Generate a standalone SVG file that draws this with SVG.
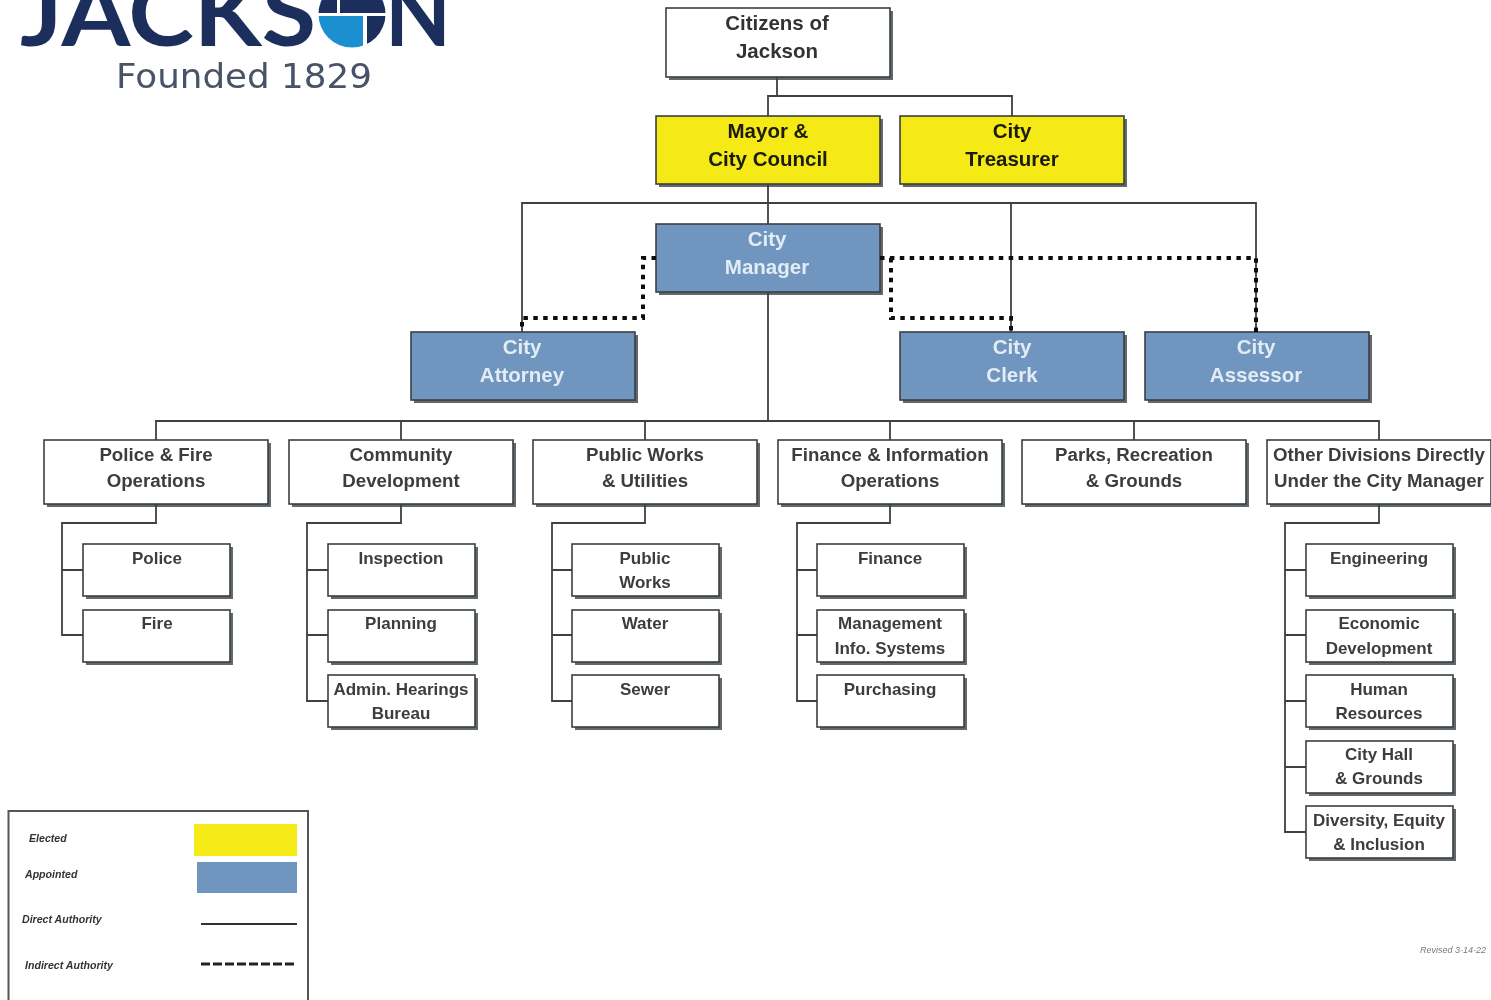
<svg xmlns="http://www.w3.org/2000/svg" width="1491" height="1000" viewBox="0 0 1491 1000">
<style>
text{font-family:"Liberation Sans",Arial,sans-serif;text-anchor:middle;font-weight:bold}
.box{stroke:#3a3f45;stroke-width:1.6}
.sh{fill:#64676b;stroke:none}
.w{fill:#fff}.y{fill:#f5ea14}.b{fill:#6f96bf}
.t0{font-size:20.5px;fill:#333}
.t1{font-size:18.7px;fill:#3c3c3c}
.tb{font-size:20.5px;fill:#1a1a10}
.tw{font-size:20.5px;fill:#e2ecf5}
.t2{font-size:17px;fill:#3c3c3c}
.lg{font-size:10.6px;font-style:italic;fill:#333;text-anchor:start}
.line{fill:none;stroke:#3c4044;stroke-width:1.8}
.dot{fill:none;stroke:#111;stroke-width:4;stroke-dasharray:4.5 5.4}
.logo{font-family:Lato,"Liberation Sans",sans-serif;font-weight:bold;font-size:92px;fill:#1c2f5c;text-anchor:start}
</style>
<defs><filter id="soft" filterUnits="userSpaceOnUse" x="0" y="0" width="1491" height="1000"><feGaussianBlur stdDeviation="0.7"/></filter></defs>
<rect width="1491" height="1000" fill="#fff"/>
<g id="page" filter="url(#soft)">
<g id="logo">
<text class="logo" x="20" y="46" textLength="296" lengthAdjust="spacingAndGlyphs">JACKS</text>
<text class="logo" x="385" y="46" textLength="66" lengthAdjust="spacingAndGlyphs">N</text>
<clipPath id="disc"><circle cx="352" cy="14" r="33.500"/></clipPath>
<g clip-path="url(#disc)">
<rect x="315" y="-22" width="22" height="35" fill="#1c2f5c"/>
<rect x="340" y="-22" width="50" height="35" fill="#1c2f5c"/>
<rect x="315" y="16" width="48" height="35" fill="#1e8fd0"/>
<rect x="367" y="16" width="25" height="35" fill="#1c2f5c"/>
</g>
<text x="116" y="88" style="font-family:'DejaVu Sans',sans-serif;font-weight:normal;font-size:33px;fill:#475266;text-anchor:start" textLength="256" lengthAdjust="spacingAndGlyphs">Founded 1829</text>
</g>
<g id="citizens"><rect class="sh" x="669" y="11" width="224" height="69"/><rect class="box w" x="666" y="8" width="224" height="69"/><text class="t0" x="777" y="30">Citizens of</text><text class="t0" x="777" y="58">Jackson</text></g>
<g id="mayor"><rect class="sh" x="659" y="119" width="224" height="68"/><rect class="box y" x="656" y="116" width="224" height="68"/><text class="tb" x="768" y="138">Mayor &amp;</text><text class="tb" x="768" y="166">City Council</text></g>
<g id="treasurer"><rect class="sh" x="903" y="119" width="224" height="68"/><rect class="box y" x="900" y="116" width="224" height="68"/><text class="tb" x="1012" y="138">City</text><text class="tb" x="1012" y="166">Treasurer</text></g>
<g id="manager"><rect class="sh" x="659" y="227" width="224" height="68"/><rect class="box b" x="656" y="224" width="224" height="68"/><text class="tw" x="767" y="246">City</text><text class="tw" x="767" y="274">Manager</text></g>
<g id="attorney"><rect class="sh" x="414" y="335" width="224" height="68"/><rect class="box b" x="411" y="332" width="224" height="68"/><text class="tw" x="522" y="354">City</text><text class="tw" x="522" y="382">Attorney</text></g>
<g id="clerk"><rect class="sh" x="903" y="335" width="224" height="68"/><rect class="box b" x="900" y="332" width="224" height="68"/><text class="tw" x="1012" y="354">City</text><text class="tw" x="1012" y="382">Clerk</text></g>
<g id="assessor"><rect class="sh" x="1148" y="335" width="224" height="68"/><rect class="box b" x="1145" y="332" width="224" height="68"/><text class="tw" x="1256" y="354">City</text><text class="tw" x="1256" y="382">Assessor</text></g>
<g id="police-fire"><rect class="sh" x="47" y="443" width="224" height="64"/><rect class="box w" x="44" y="440" width="224" height="64"/><text class="t1" x="156" y="461">Police &amp; Fire</text><text class="t1" x="156" y="487">Operations</text></g>
<g id="community"><rect class="sh" x="292" y="443" width="224" height="64"/><rect class="box w" x="289" y="440" width="224" height="64"/><text class="t1" x="401" y="461">Community</text><text class="t1" x="401" y="487">Development</text></g>
<g id="public-works"><rect class="sh" x="536" y="443" width="224" height="64"/><rect class="box w" x="533" y="440" width="224" height="64"/><text class="t1" x="645" y="461">Public Works</text><text class="t1" x="645" y="487">&amp; Utilities</text></g>
<g id="finance-ops"><rect class="sh" x="781" y="443" width="224" height="64"/><rect class="box w" x="778" y="440" width="224" height="64"/><text class="t1" x="890" y="461">Finance &amp; Information</text><text class="t1" x="890" y="487">Operations</text></g>
<g id="parks"><rect class="sh" x="1025" y="443" width="224" height="64"/><rect class="box w" x="1022" y="440" width="224" height="64"/><text class="t1" x="1134" y="461">Parks, Recreation</text><text class="t1" x="1134" y="487">&amp; Grounds</text></g>
<g id="other"><rect class="sh" x="1270" y="443" width="224" height="64"/><rect class="box w" x="1267" y="440" width="224" height="64"/><text class="t1" x="1379" y="461">Other Divisions Directly</text><text class="t1" x="1379" y="487">Under the City Manager</text></g>
<g id="police"><rect class="sh" x="86" y="547" width="147" height="52"/><rect class="box w" x="83" y="544" width="147" height="52"/><text class="t2" x="157" y="564">Police</text></g>
<g id="fire"><rect class="sh" x="86" y="613" width="147" height="52"/><rect class="box w" x="83" y="610" width="147" height="52"/><text class="t2" x="157" y="629">Fire</text></g>
<g id="inspection"><rect class="sh" x="331" y="547" width="147" height="52"/><rect class="box w" x="328" y="544" width="147" height="52"/><text class="t2" x="401" y="564">Inspection</text></g>
<g id="planning"><rect class="sh" x="331" y="613" width="147" height="52"/><rect class="box w" x="328" y="610" width="147" height="52"/><text class="t2" x="401" y="629">Planning</text></g>
<g id="admin"><rect class="sh" x="331" y="678" width="147" height="52"/><rect class="box w" x="328" y="675" width="147" height="52"/><text class="t2" x="401" y="695">Admin. Hearings</text><text class="t2" x="401" y="719">Bureau</text></g>
<g id="public"><rect class="sh" x="575" y="547" width="147" height="52"/><rect class="box w" x="572" y="544" width="147" height="52"/><text class="t2" x="645" y="564">Public</text><text class="t2" x="645" y="588">Works</text></g>
<g id="water"><rect class="sh" x="575" y="613" width="147" height="52"/><rect class="box w" x="572" y="610" width="147" height="52"/><text class="t2" x="645" y="629">Water</text></g>
<g id="sewer"><rect class="sh" x="575" y="678" width="147" height="52"/><rect class="box w" x="572" y="675" width="147" height="52"/><text class="t2" x="645" y="695">Sewer</text></g>
<g id="finance"><rect class="sh" x="820" y="547" width="147" height="52"/><rect class="box w" x="817" y="544" width="147" height="52"/><text class="t2" x="890" y="564">Finance</text></g>
<g id="mis"><rect class="sh" x="820" y="613" width="147" height="52"/><rect class="box w" x="817" y="610" width="147" height="52"/><text class="t2" x="890" y="629">Management</text><text class="t2" x="890" y="654">Info. Systems</text></g>
<g id="purchasing"><rect class="sh" x="820" y="678" width="147" height="52"/><rect class="box w" x="817" y="675" width="147" height="52"/><text class="t2" x="890" y="695">Purchasing</text></g>
<g id="engineering"><rect class="sh" x="1309" y="547" width="147" height="52"/><rect class="box w" x="1306" y="544" width="147" height="52"/><text class="t2" x="1379" y="564">Engineering</text></g>
<g id="economic"><rect class="sh" x="1309" y="613" width="147" height="52"/><rect class="box w" x="1306" y="610" width="147" height="52"/><text class="t2" x="1379" y="629">Economic</text><text class="t2" x="1379" y="654">Development</text></g>
<g id="hr"><rect class="sh" x="1309" y="678" width="147" height="52"/><rect class="box w" x="1306" y="675" width="147" height="52"/><text class="t2" x="1379" y="695">Human</text><text class="t2" x="1379" y="719">Resources</text></g>
<g id="city-hall"><rect class="sh" x="1309" y="744" width="147" height="52"/><rect class="box w" x="1306" y="741" width="147" height="52"/><text class="t2" x="1379" y="760">City Hall</text><text class="t2" x="1379" y="784">&amp; Grounds</text></g>
<g id="diversity"><rect class="sh" x="1309" y="809" width="147" height="52"/><rect class="box w" x="1306" y="806" width="147" height="52"/><text class="t2" x="1379" y="826">Diversity, Equity</text><text class="t2" x="1379" y="850">&amp; Inclusion</text></g>
<g id="connectors">
<path class="line" d="M777 77V96M768 116V96H1012V116M768 184V224M522 332V203H1256V332M1011 203V332M768 292V421M156 440V421H1379V440M401 421V440M645 421V440M890 421V440M1134 421V440"/>
<path class="line" d="M156 504V523H62V635H83M62 570H83"/>
<path class="line" d="M401 504V523H307V701H328M307 570H328M307 635H328"/>
<path class="line" d="M645 504V523H552V701H572M552 570H572M552 635H572"/>
<path class="line" d="M890 504V523H797V701H817M797 570H817M797 635H817"/>
<path class="line" d="M1379 504V523H1285V832H1306M1285 570H1306M1285 635H1306M1285 701H1306M1285 767H1306"/>
<path class="dot" d="M656 258H643V318H522V332"/>
<path class="dot" d="M880 258H1256V332"/>
<path class="dot" d="M891 258V318H1011V332"/>
</g>
<g id="legend">
<path d="M8.500 1000V811H308V1000" fill="#fff" stroke="#555" stroke-width="2"/>
<rect x="194" y="824" width="103" height="32" fill="#f5ea14"/>
<rect x="197" y="862" width="100" height="31" fill="#6f96bf"/>
<path d="M201 924H297" stroke="#333" stroke-width="1.800"/>
<path d="M201 964H295" stroke="#222" stroke-width="3" stroke-dasharray="9 3"/>
<text class="lg" x="29" y="842">Elected</text>
<text class="lg" x="25" y="878">Appointed</text>
<text class="lg" x="22" y="923">Direct Authority</text>
<text class="lg" x="25" y="969">Indirect Authority</text>
</g>
<text x="1420" y="953" style="font-size:9px;font-weight:normal;font-style:italic;fill:#777;text-anchor:start">Revised 3-14-22</text>
</g>
</svg>
